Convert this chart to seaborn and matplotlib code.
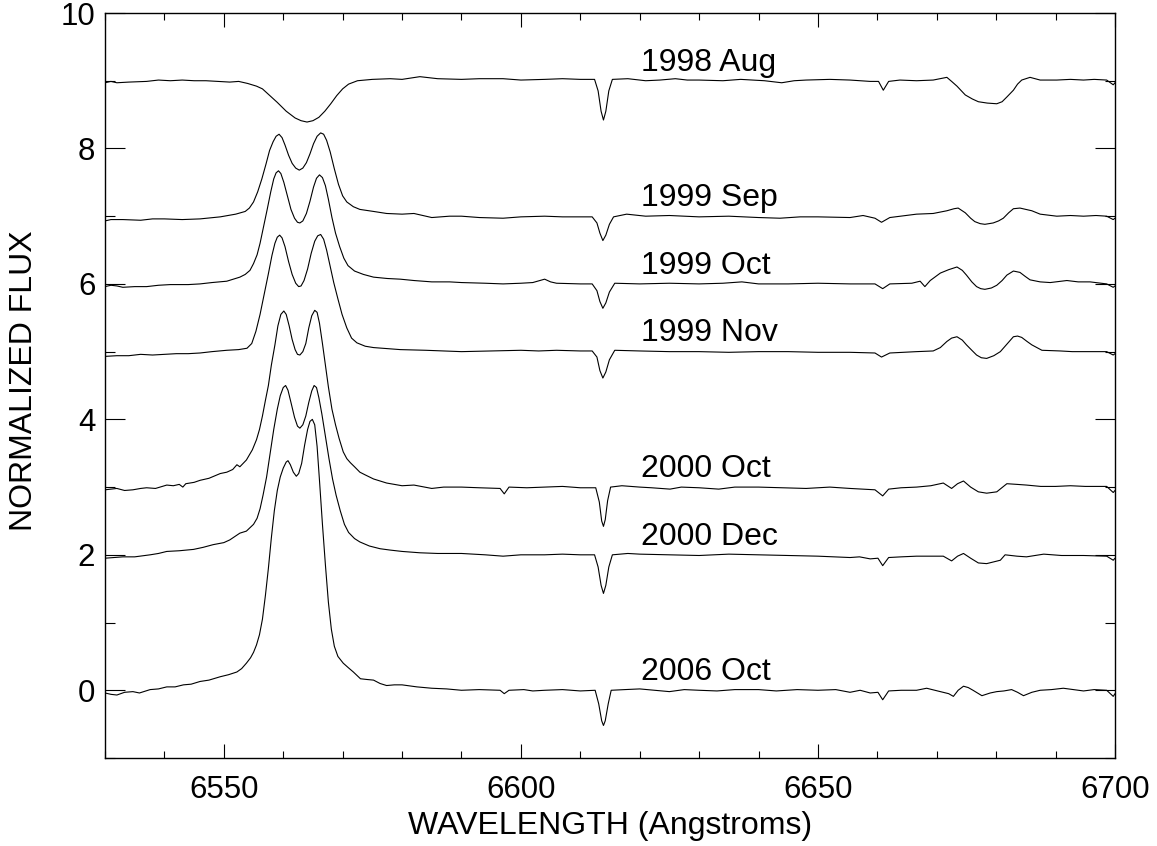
import numpy as np
import pandas as pd
import matplotlib
matplotlib.use('Agg')
import matplotlib.pyplot as plt
from matplotlib.ticker import MultipleLocator
import seaborn as sns

# -----------------------------
# Spectra: (wavelength in A, normalized flux incl. offset)
# -----------------------------
epochs = ['1998 Aug', '1999 Sep', '1999 Oct', '1999 Nov',
          '2000 Oct', '2000 Dec', '2006 Oct']
offsets = [9, 7, 6, 5, 3, 2, 0]

aug1998 = [
    (6530, 8.97), (6531, 8.99), (6532, 8.97), (6534, 8.98), (6537, 8.99),
    (6539, 9.01), (6541, 9.0), (6543, 9.01), (6545, 9.0), (6547, 9.0),
    (6549, 8.99), (6551, 8.98), (6552.5, 8.99), (6554, 8.96), (6555.5, 8.92),
    (6556.5, 8.88), (6557.5, 8.8), (6559, 8.68), (6560.5, 8.55),
    (6562, 8.45), (6563, 8.41), (6564, 8.39), (6565, 8.41), (6566, 8.46),
    (6567, 8.55), (6568, 8.66), (6569, 8.78), (6570, 8.88), (6571, 8.95),
    (6572.5, 9.0), (6575, 9.02), (6578, 9.03), (6580, 9.02), (6583, 9.06),
    (6586, 9.03), (6590, 9.02), (6593, 9.03), (6597, 9.03), (6600, 9.01),
    (6604, 9.02), (6607, 9.03), (6610, 9.02), (6612.4, 9.02),
    (6613.0, 8.85), (6613.5, 8.55), (6613.9, 8.42), (6614.3, 8.55),
    (6614.8, 8.85), (6615.4, 9.02), (6618, 9.03), (6621, 9.0),
    (6623.4, 9.01), (6626, 9.03), (6628, 9.01), (6630, 9.01), (6634, 9.0),
    (6637, 9.02), (6641, 9.0), (6643.9, 8.97), (6646, 9.0), (6648, 9.01),
    (6652, 9.02), (6655.4, 9.01), (6658.8, 8.99), (6660.2, 8.99),
    (6661.0, 8.86), (6661.9, 8.99), (6663.8, 9.01), (6666.6, 9.0),
    (6669.4, 9.01), (6671.7, 9.05), (6672.5, 8.99), (6673.4, 8.92),
    (6674.8, 8.79), (6676.0, 8.73), (6677.0, 8.69), (6678.5, 8.67),
    (6680.1, 8.66), (6681.0, 8.69), (6681.8, 8.76), (6682.9, 8.86),
    (6683.6, 8.95), (6684.3, 9.01), (6685.7, 9.05), (6687.4, 9.01),
    (6690.2, 9.01), (6692.5, 9.02), (6694.7, 9.01), (6696.5, 9.02),
    (6698.6, 9.01), (6699.7, 8.94), (6700, 8.97),
]

sep1999 = [
    (6530, 6.93), (6531, 6.95), (6533, 6.95), (6536, 6.94), (6538, 6.96),
    (6540, 6.96), (6543, 6.95), (6546, 6.96), (6549.4, 6.99), (6552, 7.03),
    (6553.6, 7.07), (6554.3, 7.12), (6555.0, 7.21), (6555.7, 7.36),
    (6556.4, 7.55), (6557.1, 7.77), (6557.7, 7.97), (6558.3, 8.1),
    (6558.8, 8.18), (6559.3, 8.21), (6559.8, 8.16), (6560.3, 8.05),
    (6560.9, 7.9), (6561.5, 7.78), (6562.1, 7.71), (6562.7, 7.68),
    (6563.3, 7.71), (6563.9, 7.79), (6564.5, 7.92), (6565.1, 8.07),
    (6565.7, 8.18), (6566.3, 8.23), (6566.8, 8.21), (6567.3, 8.12),
    (6567.9, 7.95), (6568.6, 7.7), (6569.3, 7.47), (6570.0, 7.3),
    (6570.7, 7.21), (6571.8, 7.14), (6572.9, 7.1), (6575.2, 7.07),
    (6577.4, 7.04), (6580, 7.03), (6582, 7.04), (6585, 6.98), (6588, 7.0),
    (6590, 7.0), (6593, 6.98), (6597, 6.97), (6600, 6.99), (6604, 7.0),
    (6607, 6.99), (6610, 6.99), (6612.0, 6.99), (6612.8, 6.9),
    (6613.3, 6.75), (6613.8, 6.64), (6614.3, 6.72), (6614.9, 6.88),
    (6615.6, 6.99), (6617.8, 7.03), (6621, 7.0), (6625, 7.01), (6630, 6.99),
    (6635, 7.0), (6640, 6.98), (6643.6, 6.97), (6647, 6.99), (6650, 6.99),
    (6655.4, 6.98), (6657.6, 7.01), (6659.6, 6.97), (6660.7, 6.91),
    (6662.1, 6.98), (6666.6, 7.03), (6669.4, 7.04), (6671.7, 7.08),
    (6672.9, 7.11), (6673.6, 7.12), (6674.8, 7.05), (6675.7, 6.97),
    (6676.4, 6.92), (6677.3, 6.89), (6678.1, 6.88), (6679.5, 6.9),
    (6680.4, 6.93), (6681.2, 6.97), (6682.1, 7.05), (6682.9, 7.11),
    (6684.0, 7.12), (6685.0, 7.1), (6686.0, 7.08), (6687.4, 7.03),
    (6690.2, 7.0), (6692.5, 7.01), (6694.7, 7.0), (6696.8, 7.01),
    (6698.6, 7.0), (6699.7, 6.95), (6700, 6.97),
]

oct1999 = [
    (6530, 5.96), (6531, 5.98), (6532, 5.97), (6533, 5.95), (6535, 5.96),
    (6537, 5.96), (6539, 5.98), (6541, 5.99), (6544, 5.99), (6546, 6.0),
    (6548, 6.02), (6550.5, 6.04), (6552.7, 6.1), (6553.6, 6.14),
    (6554.4, 6.2), (6555.0, 6.3), (6555.6, 6.43), (6556.1, 6.6),
    (6556.7, 6.85), (6557.3, 7.1), (6557.9, 7.36), (6558.4, 7.55),
    (6558.8, 7.64), (6559.2, 7.67), (6559.6, 7.63), (6560.1, 7.5),
    (6560.7, 7.3), (6561.3, 7.1), (6561.9, 6.97), (6562.4, 6.91),
    (6562.8, 6.9), (6563.3, 6.93), (6563.9, 7.04), (6564.5, 7.22),
    (6565.1, 7.43), (6565.6, 7.56), (6566.1, 7.61), (6566.6, 7.57),
    (6567.1, 7.45), (6567.6, 7.25), (6568.2, 6.98), (6568.8, 6.75),
    (6569.5, 6.55), (6570.2, 6.38), (6570.9, 6.27), (6572.0, 6.19),
    (6573.5, 6.14), (6575.2, 6.1), (6577.5, 6.08), (6579.7, 6.07),
    (6582, 6.05), (6585, 6.03), (6588, 6.03), (6590, 6.02), (6594, 6.01),
    (6597, 6.0), (6600, 6.01), (6602, 6.02), (6603.2, 6.05), (6604, 6.07),
    (6605, 6.03), (6606, 6.01), (6610, 6.0), (6612.0, 6.0), (6612.8, 5.9),
    (6613.3, 5.74), (6613.8, 5.64), (6614.3, 5.72), (6614.9, 5.88),
    (6615.8, 6.01), (6620, 6.0), (6625, 6.01), (6630, 6.0), (6634, 6.01),
    (6637.2, 6.03), (6640, 6.0), (6645, 6.0), (6650, 6.01), (6655.4, 6.0),
    (6659.6, 6.0), (6660.9, 5.93), (6662.1, 6.0), (6665.8, 6.01),
    (6667.2, 6.04), (6668.0, 5.96), (6668.9, 6.05), (6670.6, 6.16),
    (6672.0, 6.21), (6673.4, 6.25), (6674.3, 6.2), (6675.0, 6.13),
    (6675.9, 6.03), (6676.7, 5.96), (6677.4, 5.93), (6678.1, 5.92),
    (6679.2, 5.94), (6680.1, 5.98), (6681.0, 6.05), (6681.8, 6.13),
    (6682.9, 6.19), (6684.0, 6.17), (6684.9, 6.11), (6685.7, 6.06),
    (6687.4, 6.03), (6689.1, 6.02), (6691.9, 6.05), (6693.8, 6.03),
    (6695.8, 6.03), (6698.6, 6.0), (6699.7, 5.95), (6700, 5.97),
]

nov1999 = [
    (6530, 4.93), (6532, 4.94), (6534, 4.94), (6536, 4.96), (6538, 4.95),
    (6540, 4.96), (6542, 4.97), (6544, 4.97), (6546, 4.98), (6548, 5.0),
    (6550.5, 5.02), (6552.5, 5.03), (6553.9, 5.05), (6554.7, 5.12),
    (6555.4, 5.3), (6556.1, 5.55), (6556.8, 5.85), (6557.5, 6.15),
    (6558.1, 6.42), (6558.6, 6.6), (6559.0, 6.69), (6559.4, 6.72),
    (6559.8, 6.68), (6560.3, 6.55), (6560.9, 6.33), (6561.5, 6.14),
    (6562.1, 6.01), (6562.6, 5.96), (6563.0, 5.97), (6563.5, 6.05),
    (6564.1, 6.22), (6564.7, 6.45), (6565.3, 6.63), (6565.8, 6.71),
    (6566.3, 6.73), (6566.8, 6.66), (6567.3, 6.5), (6567.9, 6.26),
    (6568.5, 6.02), (6569.2, 5.78), (6569.9, 5.55), (6570.7, 5.35),
    (6571.5, 5.2), (6572.4, 5.13), (6573.8, 5.08), (6575.2, 5.06),
    (6579.7, 5.03), (6584, 5.02), (6590, 5.0), (6595, 5.01), (6600, 5.02),
    (6603, 5.01), (6606, 5.02), (6610, 5.01), (6612.0, 5.01),
    (6612.8, 4.92), (6613.3, 4.72), (6613.8, 4.61), (6614.3, 4.7),
    (6614.9, 4.88), (6615.8, 5.02), (6620, 5.01), (6625, 5.0), (6630, 5.0),
    (6635, 4.99), (6640, 5.0), (6645, 5.0), (6650, 4.99), (6655.4, 4.99),
    (6659.6, 4.98), (6660.7, 4.92), (6662.1, 4.98), (6666.6, 5.0),
    (6669.4, 5.01), (6670.6, 5.06), (6671.7, 5.15), (6672.5, 5.2),
    (6673.4, 5.22), (6674.3, 5.17), (6675.0, 5.1), (6675.9, 5.02),
    (6676.7, 4.95), (6677.5, 4.91), (6678.4, 4.9), (6679.6, 4.94),
    (6680.7, 5.0), (6681.8, 5.11), (6682.9, 5.22), (6683.6, 5.23),
    (6684.3, 5.21), (6685.2, 5.15), (6686.0, 5.1), (6687.7, 5.02),
    (6690.8, 5.01), (6692.8, 5.0), (6694.7, 5.0), (6698.6, 5.0),
    (6699.7, 4.95), (6700, 4.97),
]

oct2000 = [
    (6530, 2.96), (6531, 2.97), (6532, 2.98), (6533.3, 2.95),
    (6534.7, 2.96), (6536, 2.98), (6537, 2.99), (6538.5, 2.98),
    (6540.4, 3.03), (6541.5, 3.02), (6542.5, 3.04), (6543.1, 3.0),
    (6543.6, 3.05), (6545, 3.07), (6546.0, 3.1), (6547.5, 3.13),
    (6549.4, 3.2), (6550.5, 3.22), (6551.5, 3.26), (6552.2, 3.33),
    (6552.7, 3.3), (6553.8, 3.4), (6554.8, 3.55), (6555.5, 3.7),
    (6556.0, 3.85), (6556.5, 4.05), (6557.0, 4.28), (6557.5, 4.5),
    (6558.0, 4.8), (6558.6, 5.1), (6559.1, 5.38), (6559.6, 5.55),
    (6560.1, 5.6), (6560.5, 5.55), (6561.0, 5.38), (6561.5, 5.18),
    (6562.0, 5.03), (6562.4, 4.96), (6562.8, 4.95), (6563.3, 5.0),
    (6563.8, 5.12), (6564.3, 5.35), (6564.8, 5.53), (6565.3, 5.61),
    (6565.7, 5.58), (6566.1, 5.42), (6566.6, 5.12), (6567.1, 4.8),
    (6567.6, 4.48), (6568.2, 4.15), (6568.8, 3.92), (6569.4, 3.72),
    (6570.1, 3.52), (6570.7, 3.42), (6571.3, 3.36), (6572.0, 3.3),
    (6572.9, 3.22), (6573.8, 3.18), (6575.2, 3.12), (6577.4, 3.06),
    (6580, 3.02), (6582, 3.03), (6585, 2.98), (6587, 3.0), (6590, 3.0),
    (6593, 2.99), (6596.5, 2.98), (6597.2, 2.9), (6598, 3.0), (6601, 2.99),
    (6604, 3.0), (6607, 3.01), (6610, 2.99), (6612.6, 2.99),
    (6613.2, 2.78), (6613.6, 2.5), (6613.9, 2.42), (6614.2, 2.52),
    (6614.6, 2.8), (6615.1, 3.0), (6617, 3.02), (6620, 3.0), (6622, 2.99),
    (6625.1, 2.97), (6627, 3.0), (6630, 2.99), (6633.3, 2.97), (6636, 3.0),
    (6640, 3.0), (6644, 2.99), (6648, 2.98), (6652, 3.0), (6655.4, 2.98),
    (6659.6, 2.96), (6660.9, 2.87), (6661.9, 2.97), (6664, 2.99),
    (6666.6, 3.0), (6669, 3.02), (6671.1, 3.06), (6672.5, 2.98),
    (6673.5, 3.05), (6674.5, 3.09), (6675.7, 3.0), (6677.0, 2.93),
    (6678.4, 2.91), (6680.1, 2.93), (6681.8, 3.05), (6683.5, 3.04),
    (6685.1, 3.03), (6687.5, 3.01), (6690, 3.01), (6692.5, 3.02),
    (6695, 3.01), (6698.6, 3.01), (6699.7, 2.92), (6700, 2.95),
]

dec2000 = [
    (6530, 1.95), (6531.5, 1.96), (6533, 1.97), (6535, 1.97),
    (6537.6, 2.0), (6539, 2.02), (6540.4, 2.05), (6542.5, 2.06),
    (6544.9, 2.08), (6546.5, 2.11), (6548.2, 2.15), (6550, 2.18),
    (6551, 2.22), (6552.7, 2.32), (6553.8, 2.35), (6555, 2.45),
    (6555.6, 2.54), (6556.1, 2.68), (6556.6, 2.88), (6557.2, 3.15),
    (6557.8, 3.5), (6558.4, 3.85), (6559.0, 4.15), (6559.5, 4.35),
    (6560.0, 4.47), (6560.4, 4.5), (6560.8, 4.43), (6561.3, 4.25),
    (6561.9, 4.03), (6562.4, 3.9), (6562.8, 3.87), (6563.3, 3.92),
    (6563.8, 4.05), (6564.3, 4.25), (6564.8, 4.42), (6565.2, 4.5),
    (6565.6, 4.47), (6566.0, 4.32), (6566.5, 4.08), (6567.1, 3.75),
    (6567.7, 3.42), (6568.3, 3.12), (6568.9, 2.88), (6569.6, 2.65),
    (6570.3, 2.45), (6571.0, 2.33), (6572.0, 2.24), (6572.9, 2.19),
    (6574.5, 2.13), (6576.3, 2.09), (6578, 2.07), (6580, 2.05),
    (6583, 2.03), (6586, 2.02), (6590, 2.02), (6594, 2.0), (6597, 1.98),
    (6600, 2.0), (6604, 2.0), (6607, 2.01), (6610, 2.0), (6612.4, 2.0),
    (6613.0, 1.82), (6613.5, 1.55), (6613.9, 1.43), (6614.3, 1.55),
    (6614.8, 1.82), (6615.4, 2.0), (6618, 2.02), (6620, 2.01),
    (6625, 2.0), (6630, 1.99), (6635, 2.01), (6640, 2.0), (6645, 1.99),
    (6650, 1.98), (6655.4, 1.96), (6657, 1.97), (6658.8, 1.94),
    (6660.1, 1.95), (6660.9, 1.84), (6661.9, 1.96), (6664, 1.97),
    (6666.6, 1.98), (6669, 1.98), (6671.1, 1.98), (6672.5, 1.91),
    (6673.5, 1.98), (6674.5, 2.02), (6675.7, 1.95), (6677.0, 1.88),
    (6678.4, 1.87), (6680.7, 1.92), (6681.5, 2.0), (6683.5, 1.98),
    (6685.1, 1.97), (6688.0, 2.01), (6691, 1.99), (6694.7, 1.99),
    (6698.6, 1.98), (6699.7, 1.92), (6700, 1.95),
]

oct2006 = [
    (6530, -0.04), (6531, -0.06), (6532, -0.07), (6533.3, -0.03),
    (6534.7, -0.02), (6535.8, -0.04), (6537.6, 0.01), (6539, 0.02),
    (6540.4, 0.05), (6541.8, 0.05), (6543.2, 0.08), (6544.5, 0.09),
    (6546.0, 0.13), (6547.5, 0.15), (6549.4, 0.2), (6550.8, 0.23),
    (6552.2, 0.27), (6553.0, 0.32), (6553.8, 0.4), (6554.5, 0.48),
    (6555.0, 0.56), (6555.5, 0.67), (6556.0, 0.82), (6556.5, 1.05),
    (6557.0, 1.4), (6557.5, 1.8), (6558.0, 2.25), (6558.5, 2.65),
    (6559.0, 2.95), (6559.5, 3.15), (6560.0, 3.28), (6560.5, 3.37),
    (6560.8, 3.39), (6561.2, 3.33), (6561.7, 3.22), (6562.2, 3.16),
    (6562.6, 3.2), (6563.1, 3.35), (6563.6, 3.62), (6564.1, 3.85),
    (6564.5, 3.97), (6564.9, 4.0), (6565.3, 3.92), (6565.7, 3.6),
    (6566.1, 3.1), (6566.6, 2.45), (6567.1, 1.85), (6567.6, 1.3),
    (6568.1, 0.9), (6568.6, 0.65), (6569.2, 0.5), (6570.1, 0.4),
    (6571.0, 0.33), (6571.8, 0.27), (6573, 0.17), (6574, 0.16),
    (6575.2, 0.15), (6576.3, 0.1), (6577.4, 0.07), (6578.7, 0.08),
    (6580, 0.08), (6582.5, 0.05), (6585, 0.03), (6587.5, 0.02),
    (6590, 0.0), (6593, 0.01), (6596.5, 0.0), (6597.2, -0.05),
    (6598, 0.0), (6600.5, 0.01), (6602, -0.01), (6604, 0.0), (6607, 0.01),
    (6610, -0.01), (6612.5, 0.0), (6613.1, -0.2), (6613.6, -0.45),
    (6613.9, -0.52), (6614.2, -0.45), (6614.7, -0.2), (6615.2, 0.0),
    (6617.5, 0.01), (6620, 0.02), (6622.5, 0.0), (6625, -0.02),
    (6627.5, 0.01), (6630, 0.0), (6633, -0.01), (6636, 0.01),
    (6640, 0.01), (6643, -0.01), (6646.5, 0.01), (6650, 0.0),
    (6653, 0.01), (6655.4, -0.03), (6657.1, 0.0), (6658.8, -0.04),
    (6660.1, -0.03), (6660.9, -0.14), (6661.9, -0.01), (6664, 0.0),
    (6666.6, 0.0), (6668.3, 0.03), (6670.6, -0.02), (6672.0, -0.05),
    (6672.8, -0.09), (6673.6, 0.0), (6674.5, 0.06), (6675.3, 0.04),
    (6676.1, 0.0), (6677.6, -0.08), (6679, -0.04), (6680.1, -0.02),
    (6681.3, -0.01), (6682.6, 0.01), (6683.6, -0.03), (6684.6, -0.08),
    (6686, -0.03), (6687.4, 0.0), (6689.3, 0.01), (6691.3, 0.03),
    (6693, 0.01), (6694.7, -0.01), (6696.5, 0.01), (6698.6, 0.0),
    (6699.7, -0.09), (6700, -0.05),
]

spectra = [aug1998, sep1999, oct1999, nov1999, oct2000, dec2000, oct2006]

# long-form table for seaborn
frames = []
for name, spec in zip(epochs, spectra):
    wl, fl = zip(*spec)
    frames.append(pd.DataFrame({'wavelength': wl, 'flux': fl, 'epoch': name}))
df = pd.concat(frames, ignore_index=True)

# -----------------------------
# Plot
# -----------------------------
sns.set_style('ticks')
plt.rcParams['font.family'] = ['Liberation Sans', 'DejaVu Sans']
plt.rcParams['text.color'] = 'black'
plt.rcParams['axes.labelcolor'] = 'black'

fig = plt.figure(figsize=(11.57, 8.46), dpi=100)
ax = fig.add_axes([0.09075, 0.10402, 0.87295, 0.88061])

sns.lineplot(data=df, x='wavelength', y='flux', units='epoch',
             estimator=None, sort=False, color='black', lw=0.8, ax=ax)

for name, off in zip(epochs, offsets):
    ax.text(6620.3, off + 0.15, name, fontsize=23, color='black',
            va='baseline', ha='left')

ax.set_xlim(6530, 6700)
ax.set_ylim(-1, 10)
ax.xaxis.set_major_locator(MultipleLocator(50))
ax.xaxis.set_minor_locator(MultipleLocator(10))
ax.yaxis.set_major_locator(MultipleLocator(2))
ax.yaxis.set_minor_locator(MultipleLocator(1))

ax.tick_params(which='both', direction='in', top=True, right=True,
               colors='black', labelsize=22.5, width=0.8)
ax.tick_params(axis='x', which='major', length=10, pad=12)
ax.tick_params(axis='x', which='minor', length=5)
ax.tick_params(axis='y', which='major', length=14.4, pad=7)
ax.tick_params(axis='y', which='minor', length=7.2)

for sp in ax.spines.values():
    sp.set_linewidth(1.0)
    sp.set_color('black')

ax.set_xlabel('WAVELENGTH (Angstroms)', fontsize=23)
ax.set_ylabel('NORMALIZED FLUX', fontsize=23)
ax.xaxis.set_label_coords(0.5, -0.0705)
ax.xaxis.label.set_va('top')
ax.yaxis.set_label_coords(-0.0655, 0.506)

fig.savefig('out.png', dpi=100)
